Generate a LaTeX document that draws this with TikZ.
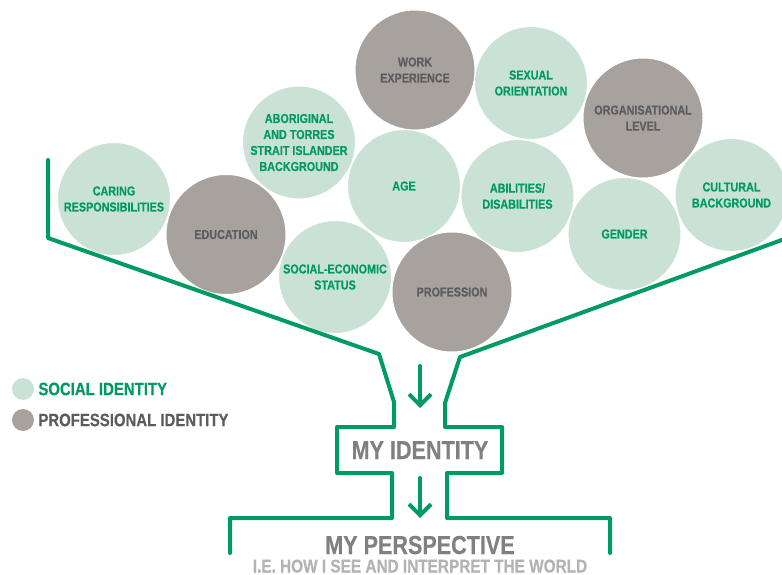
\documentclass[tikz,border=0pt]{standalone}
\usepackage{fontspec}
\setmainfont{Liberation Sans}[FakeStretch=0.83,BoldFeatures={FakeBold=0.4}]
\usetikzlibrary{arrows.meta,positioning}

\definecolor{idgreen}{HTML}{009A63}
\definecolor{socialfill}{HTML}{CAE2D6}
\definecolor{proffill}{HTML}{A8A29F}
\definecolor{proftext}{HTML}{5C5C5F}
\definecolor{idtext}{HTML}{808083}
\definecolor{subtext}{HTML}{B3B3B5}

\begin{document}
\begin{tikzpicture}[x=1pt,y=-1pt,
      label font/.style={font=\bfseries\fontsize{13}{16}\selectfont},
      social node/.style={circle,fill=socialfill,draw=white,line width=1pt,text=idgreen,
                          minimum size=113pt,inner sep=0pt,align=center,label font},
      prof node/.style={circle,fill=proffill,draw=white,line width=1pt,text=proftext,
                        minimum size=120pt,inner sep=0pt,align=center,label font},
      key dot/.style={circle,minimum size=22pt,inner sep=0pt},
      key text/.style={inner sep=0pt,font=\bfseries\fontsize{18}{20}\selectfont},
      funnel/.style={draw=idgreen,line width=4pt,line join=round,line cap=round},
      flow/.style={funnel,-{Straight Barb[length=11pt,width=22pt]}}]
 \useasboundingbox (0,0) rectangle (782,575);

 % social identity
 \node[social node] (care)   at (114,199)   {CARING\\RESPONSIBILITIES};
 \node[social node] (abor)   at (299,142.5) {ABORIGINAL\\AND TORRES\\STRAIT ISLANDER\\BACKGROUND};
 \node[social node] (socec)  at (335,277)   {SOCIAL-ECONOMIC\\STATUS};
 \node[social node] (age)    at (404,186)   {AGE};
 \node[social node] (sexor)  at (531,83)    {SEXUAL\\ORIENTATION};
 \node[social node] (abil)   at (517.5,196) {ABILITIES/\\DISABILITIES};
 \node[social node] (gender) at (624.5,234) {GENDER};
 \node[social node] (cult)   at (731.5,195) {CULTURAL\\BACKGROUND};

 % professional identity
 \node[prof node] (educ) at (226,234.5) {EDUCATION};
 \node[prof node] (work) at (415,70)    {WORK\\EXPERIENCE};
 \node[prof node] (prof) at (452,292)   {PROFESSION};
 \node[prof node] (orgl) at (643,118)   {ORGANISATIONAL\\LEVEL};

 % key
 \node[key dot,fill=socialfill] (keys) at (23,389) {};
 \node[key dot,fill=proffill]   (keyp) at (23,420) {};
 \node[key text,text=idgreen,right=4pt of keys]  {SOCIAL IDENTITY};
 \node[key text,text=proftext,right=4pt of keyp] {PROFESSIONAL IDENTITY};

 % funnel
 \draw[funnel] (48,160) -- (48,238) -- (379,354) -- (394,402) -- (394,427)
   -- (337,427) -- (337,473) -- (392,473) -- (392,518) -- (230,518) -- (230,553);
 \draw[funnel] (790,237) -- (460,357) -- (445,403) -- (445,427)
   -- (502,427) -- (502,473) -- (447,473) -- (447,518) -- (610,518) -- (610,553);

 \node[anchor=base,text=idtext,font=\bfseries\fontsize{26}{28}\selectfont] (ident) at (420,459) {MY IDENTITY};
 \node[anchor=base,text=idtext,font=\bfseries\fontsize{26}{28}\selectfont] (persp) at (420,554) {MY PERSPECTIVE};
 \node[anchor=base,text=subtext,font=\bfseries\fontsize{18.5}{20}\selectfont] (world) at (420,572.5) {I.E. HOW I SEE AND INTERPRET THE WORLD};

 \coordinate (in1)  at (420,366);
 \coordinate (out1) at (420,408);
 \coordinate (in2)  at (420,478);
 \coordinate (out2) at (420,518);
 \draw[flow] (in1) -- (out1);
 \draw[flow] (in2) -- (out2);
\end{tikzpicture}
\end{document}
